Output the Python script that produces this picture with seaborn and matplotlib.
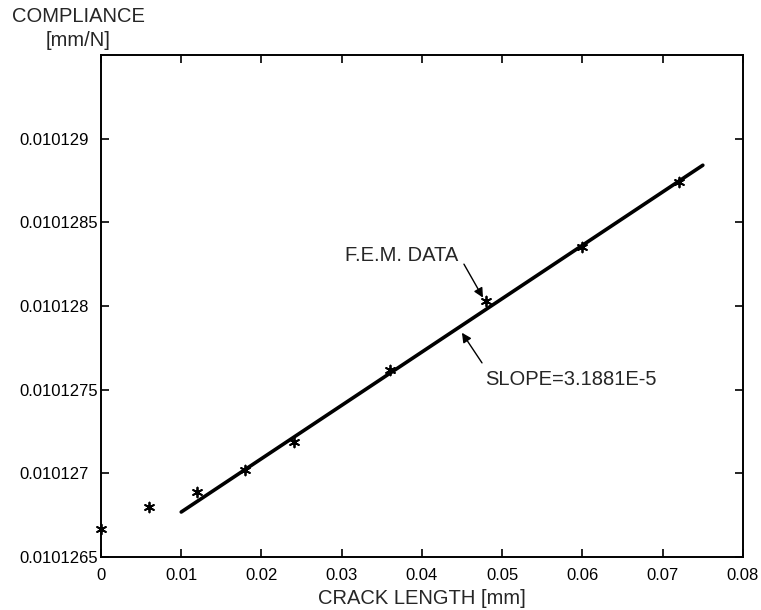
import matplotlib.pyplot as plt
import matplotlib.ticker as mticker
import numpy as np
import pandas as pd
import seaborn as sns

# F.E.M. compliance values
crack_length = [0.0, 0.006, 0.012, 0.018, 0.024, 0.036, 0.048, 0.060, 0.072]
compliance = [0.01012667, 0.0101268, 0.01012689, 0.01012702, 0.01012719,
              0.01012762, 0.01012803, 0.01012835, 0.01012874]

# fitted line
slope = 3.1881e-5
intercept = 0.01012645
fit_x = [0.010, 0.075]

x_ticks = [0, 0.01, 0.02, 0.03, 0.04, 0.05, 0.06, 0.07, 0.08]
y_ticks = [0.0101265, 0.010127, 0.0101275, 0.010128, 0.0101285, 0.010129]

sns.set_style('ticks')
plt.rcParams['font.family'] = ['Liberation Sans', 'DejaVu Sans']

df = pd.DataFrame({'x': crack_length, 'y': compliance})
fit = pd.DataFrame({'x': fit_x, 'y': intercept + slope * np.array(fit_x)})

fig = plt.figure(figsize=(7.61, 6.1), dpi=100)
ax = fig.add_axes([0.1327, 0.0869, 0.8436, 0.8230])

sns.lineplot(x='x', y='y', data=fit, ax=ax, color='black', linewidth=2.6)
sns.scatterplot(x='x', y='y', data=df, ax=ax, marker=(6, 2, 0), s=50,
                color='black', linewidth=1.3, clip_on=False, zorder=3)

ax.set_xlim(0, 0.08)
ax.set_ylim(0.0101265, 0.0101295)
ax.set_xticks(x_ticks)
ax.set_yticks(y_ticks)
ax.xaxis.set_major_formatter(mticker.FormatStrFormatter('%g'))
ax.yaxis.set_major_formatter(mticker.FormatStrFormatter('%g'))
ax.tick_params(direction='in', length=6, width=1.2, top=True, right=True,
               labelsize=12, colors='black')
ax.tick_params(axis='y', pad=59)
ax.tick_params(axis='x', pad=8)
for lbl in ax.get_yticklabels():
    lbl.set_horizontalalignment('left')
for s in ax.spines.values():
    s.set_linewidth(1.4)
    s.set_color('black')

ax.set_xlabel('CRACK LENGTH [mm]', fontsize=14.5, labelpad=4)
ax.set_ylabel('')
fig.text(0.103, 0.988, 'COMPLIANCE\n[mm/N]', fontsize=14.5, ha='center', va='top',
         linespacing=1.3)

ax.text(0.0304, 0.0101283, 'F.E.M. DATA', fontsize=14.5, va='center')
ax.annotate('', xy=(0.0476, 0.01012805), xytext=(0.04523, 0.01012825),
            arrowprops=dict(arrowstyle='-|>', color='black', lw=1, shrinkA=0, shrinkB=0,
                            mutation_scale=14))
ax.text(0.04785, 0.01012756, 'SLOPE=3.1881E-5', fontsize=14.5, va='center')
ax.annotate('', xy=(0.04498, 0.01012784), xytext=(0.04748, 0.01012766),
            arrowprops=dict(arrowstyle='-|>', color='black', lw=1, shrinkA=0, shrinkB=0,
                            mutation_scale=14))

fig.savefig('out.png', dpi=100)
